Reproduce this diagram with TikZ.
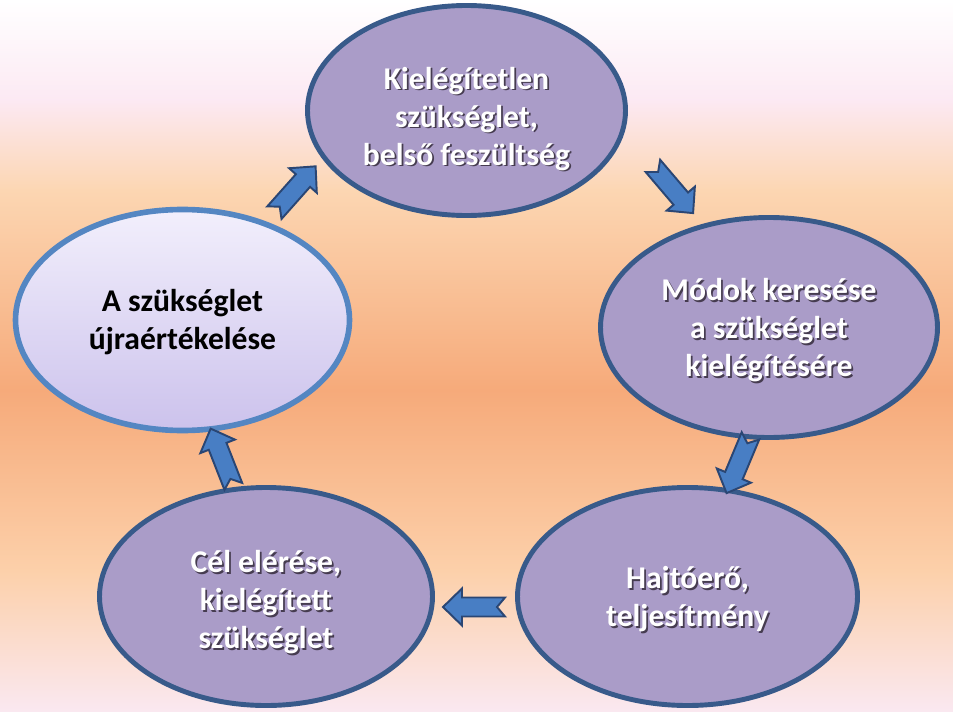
\documentclass[tikz,border=0pt]{standalone}
\usepackage{fontspec}
\setmainfont{Carlito}
\usetikzlibrary{shapes.geometric}
\definecolor{bgtop}{RGB}{255,255,255}
\definecolor{bgpink}{RGB}{252,233,243}
\definecolor{bgpeach}{RGB}{252,214,178}
\definecolor{bgorange}{RGB}{246,170,122}
\definecolor{bgapricot}{RGB}{252,208,170}
\definecolor{bgbottom}{RGB}{250,232,240}
\definecolor{stagefill}{RGB}{170,156,200}
\definecolor{stageline}{RGB}{56,90,138}
\definecolor{revtop}{RGB}{242,239,252}
\definecolor{revbot}{RGB}{204,194,236}
\definecolor{revline}{RGB}{84,134,194}
\definecolor{flowfill}{RGB}{72,126,196}
\definecolor{flowline}{RGB}{42,70,116}
\definecolor{txtshadow}{RGB}{70,60,80}
\newcommand\shtxt[1]{\leavevmode\rlap{\kern1pt\raisebox{-1pt}{\textcolor{txtshadow}{#1}}}#1}
\newcommand\dropby[1]{\rule{0pt}{#1}}
\tikzset{
  stage/.style={ellipse,draw=stageline,line width=2.8pt,fill=stagefill,text=white,
    font=\bfseries\fontsize{18}{21.6}\selectfont,align=center,inner sep=0pt},
  recheck/.style={stage,draw=revline,line width=3.2pt,top color=revtop,bottom color=revbot,text=black},
  blockarr/.pic={\filldraw[fill=flowfill,draw=flowline,line width=1.1pt,line join=miter]
    (-0.62,0.19) -- (0.24,0.19) -- (0.24,0.37) -- (0.62,0) -- (0.24,-0.37)
    -- (0.24,-0.19) -- (-0.62,-0.19) -- (-0.46,0) -- cycle;},
}

\begin{document}
\begin{tikzpicture}
  \useasboundingbox (0,0) rectangle (19.06,14.22);
  \shade[top color=bgtop,bottom color=bgpink] (0,12.2) rectangle (19.06,14.22);
  \shade[top color=bgpink,bottom color=bgpeach] (0,10.4) rectangle (19.06,12.22);
  \shade[top color=bgpeach,bottom color=bgorange] (0,6.4) rectangle (19.06,10.42);
  \shade[top color=bgorange,bottom color=bgapricot] (0,2.8) rectangle (19.06,6.42);
  \shade[top color=bgapricot,bottom color=bgbottom] (0,0) rectangle (19.06,2.82);

  \node[stage,minimum width=6.36cm,minimum height=4.2cm] (need) at (9.33,12.01)
    {\dropby{23pt}\shtxt{Kielégítetlen}\\\shtxt{szükséglet,}\\\shtxt{belső feszültség}};
  \node[stage,minimum width=6.74cm,minimum height=4.4cm] (search) at (15.38,7.67)
    {\dropby{17pt}\shtxt{Módok keresése}\\\shtxt{a szükséglet}\\\shtxt{kielégítésére}};
  \node[stage,minimum width=6.8cm,minimum height=4.36cm] (drive) at (13.75,2.29)
    {\dropby{17pt}\shtxt{Hajtóerő,}\\\shtxt{teljesítmény}};
  \node[stage,minimum width=6.66cm,minimum height=4.36cm] (goal) at (5.32,2.29)
    {\dropby{20pt}\shtxt{Cél elérése,}\\\shtxt{kielégített}\\\shtxt{szükséglet}};
  \node[recheck,minimum width=6.68cm,minimum height=4.42cm] (reval) at (3.65,7.82)
    {\dropby{15pt}A szükséglet\\újraértékelése};

  \coordinate (t1) at (5.50,9.98);  \coordinate (h1) at (6.30,10.88);
  \coordinate (t2) at (13.06,10.9); \coordinate (h2) at (13.86,9.96);
  \coordinate (t3) at (15.00,5.48); \coordinate (h3) at (14.54,4.38);
  \coordinate (t4) at (10.10,2.08); \coordinate (h4) at (8.86,2.08);
  \coordinate (t5) at (4.64,4.56);  \coordinate (h5) at (4.24,5.58);
  \foreach \i in {1,...,5}
    \path (t\i) -- pic[sloped,allow upside down,pos=0.5] {blockarr} (h\i);
\end{tikzpicture}
\end{document}
